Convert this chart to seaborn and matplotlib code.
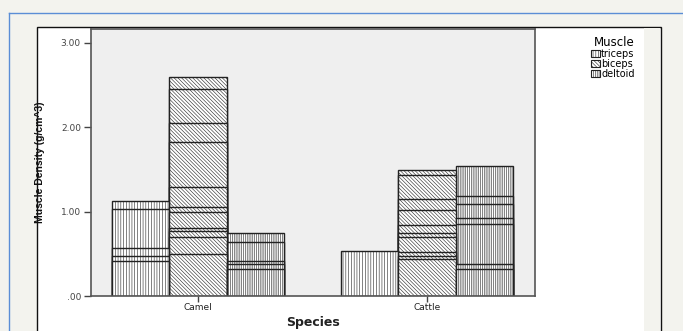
import numpy as np
import pandas as pd
import matplotlib
matplotlib.use("Agg")
import matplotlib.pyplot as plt
import seaborn as sns
from matplotlib.patches import Rectangle, Patch
from matplotlib.lines import Line2D

# individual case values (bars overlap, each case drawn from zero)
species = ["Camel", "Cattle"]
muscles = ["triceps", "biceps", "deltoid"]

camel_triceps = [1.13, 1.03, 0.57, 0.47, 0.42]
camel_biceps = [2.60, 2.45, 2.05, 1.83, 1.29, 1.06, 0.99, 0.81, 0.77, 0.70, 0.50]
camel_deltoid = [0.75, 0.64, 0.42, 0.38, 0.32]
cattle_triceps = [0.53]
cattle_biceps = [1.49, 1.43, 1.15, 1.02, 0.84, 0.75, 0.70, 0.52, 0.47, 0.44]
cattle_deltoid = [1.54, 1.18, 1.09, 0.92, 0.85, 0.38, 0.32]

y_ticks = [0, 1, 2, 3]
y_ticklabels = [".00", "1.00", "2.00", "3.00"]

rows = []
for sp, mu, vals in [("Camel", "triceps", camel_triceps), ("Camel", "biceps", camel_biceps),
                     ("Camel", "deltoid", camel_deltoid), ("Cattle", "triceps", cattle_triceps),
                     ("Cattle", "biceps", cattle_biceps), ("Cattle", "deltoid", cattle_deltoid)]:
    for v in vals:
        rows.append({"species": sp, "muscle": mu, "value": v})
df = pd.DataFrame(rows)

hatches = {"triceps": "|" * 6, "biceps": "\\" * 9, "deltoid": "|" * 9}
white_pal = {m: "white" for m in muscles}

plt.rcParams["hatch.linewidth"] = 0.4
plt.rcParams["hatch.color"] = "#555555"

page_bg = "#f3f3ee"
fig = plt.figure(figsize=(6.83, 3.31), dpi=100, facecolor=page_bg)

# chart frame
fig.patches.append(Rectangle((36.6 / 683, -0.01), (660.7 - 36.6) / 683, 1 - 26.7 / 331 + 0.01,
                             transform=fig.transFigure, facecolor="white", edgecolor="#111111",
                             linewidth=1.0, zorder=-2))
fig.patches.append(Rectangle((644 / 683, 0), (660 - 644) / 683, 1 - 28 / 331,
                             transform=fig.transFigure, facecolor=page_bg, edgecolor="none", zorder=-1))
# blue page border
fig.lines.append(Line2D([8.7 / 683, 8.7 / 683], [0, 1 - 13.3 / 331], transform=fig.transFigure,
                        color="#5b8ed6", linewidth=1.0, zorder=-2))
fig.lines.append(Line2D([8.7 / 683, 1], [1 - 13.3 / 331, 1 - 13.3 / 331], transform=fig.transFigure,
                        color="#5b8ed6", linewidth=1.0, zorder=-2))

ax = fig.add_axes([90.6 / 683, 1 - 296 / 331, (535 - 90.6) / 683, (296 - 29.3) / 331])
ax.set_facecolor("#efefef")

# larger cases first so smaller ones draw over them
for idx in df.sort_values("value", ascending=False).index:
    sub = df.loc[[idx]]
    mu = sub["muscle"].iloc[0]
    sns.barplot(data=sub, x="species", y="value", hue="muscle", order=species, hue_order=muscles,
                palette=white_pal, width=0.75, dodge=True, legend=False, errorbar=None,
                hatch=hatches[mu], edgecolor="#222222", linewidth=1.0, ax=ax)

ax.set_xlim(-0.469, 1.472)
ax.set_ylim(0, 3.16)
ax.set_yticks(y_ticks)
ax.set_yticklabels(y_ticklabels, fontsize=6.5, color="#444444")
ax.set_xticks([0, 1])
ax.set_xticklabels(species, fontsize=6.5, color="#222222")
ax.tick_params(axis="y", direction="out", length=5, width=1, color="#444444", pad=2)
ax.tick_params(axis="x", direction="out", length=4, width=1, color="#444444", pad=1)
for s in ax.spines.values():
    s.set_color("#555555")
    s.set_linewidth(1.2)

ax.set_xlabel("Species", fontsize=9, fontweight="bold", labelpad=3, color="#222222")
ax.set_ylabel("Muscle Density (g/cm^3)", fontsize=7.5, fontweight="bold", labelpad=11,
              color="#111111", family=["Liberation Sans", "DejaVu Sans"])

handles = [Patch(facecolor="white", edgecolor="#222222", hatch=hatches[m], linewidth=0.8) for m in muscles]
leg = fig.legend(handles, muscles, title="Muscle", loc="upper left", bbox_to_anchor=(585 / 683, 1 - 30 / 331),
                 frameon=False, fontsize=7, title_fontsize=8.5, handlelength=0.9, handleheight=0.7,
                 handletextpad=0.15, labelspacing=0.0, borderpad=0.1)
leg._legend_box.align = "right"

fig.savefig("out.png", dpi=100, facecolor=page_bg)
